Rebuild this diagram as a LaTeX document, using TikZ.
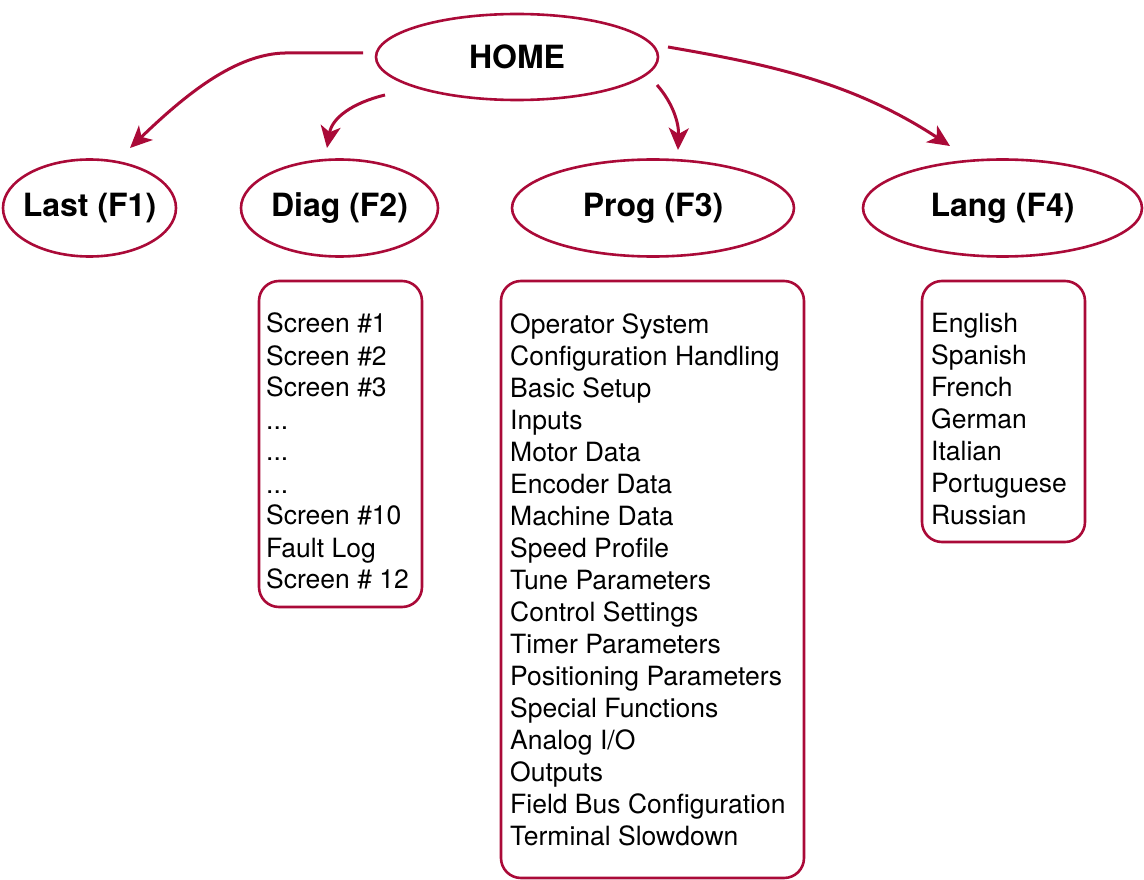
\documentclass[tikz,border=0pt]{standalone}
\usepackage{fontspec}
\setmainfont{TeX Gyre Heros}
\usetikzlibrary{arrows.meta,shapes.geometric}
\definecolor{crim}{RGB}{170,10,56}
\newcommand{\ovtext}[1]{\makebox[0pt]{#1}}
\begin{document}
\begin{tikzpicture}[x=1pt,y=-1pt,
  oval/.style={draw=crim, line width=2.6pt, ellipse, inner sep=0pt, font=\fontsize{32}{36}\selectfont\bfseries},
  listbox/.style={draw=crim, line width=2.6pt, rectangle, rounded corners=20pt, inner sep=0pt},
  listtext/.style={anchor=north west, inner sep=0pt, align=left, font=\fontsize{26.5}{32}\selectfont},
  link/.style={draw=crim, line width=3pt, -{Stealth[length=22pt,width=20pt,inset=6pt]}}
]
\useasboundingbox (0,0) rectangle (1144,880);
\node[oval, minimum width=282pt, minimum height=86pt] (home) at (517,57) {\ovtext{HOME}};
\node[oval, minimum width=173pt, minimum height=97pt] (last) at (89.5,208) {\ovtext{Last (F1)}};
\node[oval, minimum width=197pt, minimum height=97pt] (diag) at (339.5,208) {\ovtext{Diag (F2)}};
\node[oval, minimum width=282pt, minimum height=97pt] (prog) at (653,208) {\ovtext{Prog (F3)}};
\node[oval, minimum width=279pt, minimum height=97pt] (lang) at (1002.5,208) {\ovtext{Lang (F4)}};

\node[listbox, minimum width=163pt, minimum height=326pt] (diagbox) at (340.5,444) {};
\node[listbox, minimum width=303pt, minimum height=597pt] (progbox) at (652.5,579.5) {};
\node[listbox, minimum width=163pt, minimum height=261pt] (langbox) at (1003.5,411.5) {};

\node[listtext] (diaglist) at (266,313) {Screen \#1\\Screen \#2\\Screen \#3\\...\\...\\...\\Screen \#10\\Fault Log\\Screen \# 12};
\node[listtext] (proglist) at (510,313) {Operator System\\Configuration Handling\\Basic Setup\\Inputs\\Motor Data\\Encoder Data\\Machine Data\\Speed Profile\\Tune Parameters\\Control Settings\\Timer Parameters\\Positioning Parameters\\Special Functions\\Analog I/O\\Outputs\\Field Bus Configuration\\Terminal Slowdown};
\node[listtext] (langlist) at (931,313) {English\\Spanish\\French\\German\\Italian\\Portuguese\\Russian};

\coordinate (s1) at (363,53);
\coordinate (t1) at (130,148);
\coordinate (s2) at (385,95);
\coordinate (t2) at (327,148);
\coordinate (s3) at (657,85);
\coordinate (t3) at (678,150);
\coordinate (s4) at (668,47);
\coordinate (t4) at (950,146);

\draw[link] (s1) -- (285,53) .. controls (235,54) and (185,95) .. (t1);
\draw[link] (s2) .. controls (352,103) and (332,118) .. (t2);
\draw[link] (s3) .. controls (672,102) and (679,122) .. (t3);
\draw[link] (s4) .. controls (760,63) and (850,80) .. (t4);
\end{tikzpicture}
\end{document}
